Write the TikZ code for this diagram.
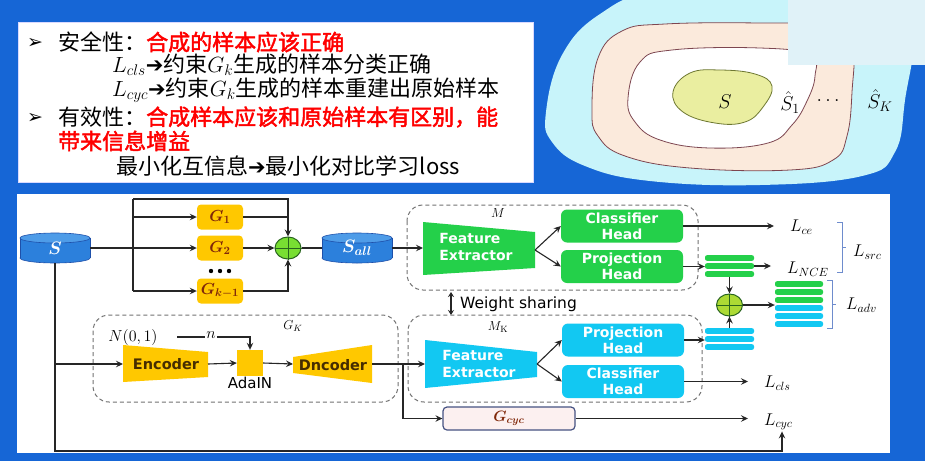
\RequirePackage{fix-cm}
\documentclass[tikz,border=0pt]{standalone}
\usepackage{fontspec}
\usetikzlibrary{arrows.meta,calc,shapes.geometric}

\newfontfamily\cjk{Noto Sans CJK SC}
\newfontfamily\cjkb[FakeBold=2]{Noto Sans CJK SC}
\newfontfamily\dingfont{DejaVu Sans}
\newfontfamily\dv{DejaVu Sans}

\definecolor{bgBlue}{RGB}{22,102,214}
\definecolor{feGreen}{RGB}{36,208,74}
\definecolor{feBlue}{RGB}{18,200,242}
\definecolor{gYellow}{RGB}{255,200,0}
\definecolor{drumBlue}{RGB}{44,128,220}
\definecolor{drumTop}{RGB}{78,156,232}
\definecolor{drumEdge}{RGB}{30,80,170}
\definecolor{plusGreen}{RGB}{120,222,50}
\definecolor{plusGreenB}{RGB}{172,218,52}
\definecolor{plusEdge}{RGB}{40,100,30}
\definecolor{gBrown}{RGB}{128,40,10}
\definecolor{encText}{RGB}{70,45,0}
\definecolor{cycFill}{RGB}{252,240,240}
\definecolor{cycEdge}{RGB}{70,82,130}
\definecolor{brackBlue}{RGB}{110,140,205}
\definecolor{zoneCyan}{RGB}{200,244,250}
\definecolor{zonePeach}{RGB}{251,234,220}
\definecolor{zoneYellow}{RGB}{234,238,160}
\definecolor{zoneLine}{RGB}{125,70,80}
\definecolor{zoneOlive}{RGB}{110,120,50}
\definecolor{alertRed}{RGB}{255,0,0}
\definecolor{paleCard}{RGB}{224,242,248}

% emphasised red text
\newcommand\hltxt[1]{{\cjkb\color{alertRed}#1}}
% heavy arrow used inside the text lines
\newcommand\harrow{{\dingfont\fontsize{21}{21}\selectfont ➔}}

% horizontal storage drum: name, centre x, centre y, label
\newcommand\drawdrum[4]{%
  \filldraw[fill=drumBlue,draw=drumEdge,line width=0.6pt] (#2,#3+10) ellipse[x radius=35,y radius=5];
  \fill[drumBlue] (#2-35,#3-10) rectangle (#2+35,#3+10);
  \draw[drumEdge,line width=0.6pt] (#2-35,#3-10) -- (#2-35,#3+10) (#2+35,#3-10) -- (#2+35,#3+10);
  \filldraw[fill=drumTop,draw=drumEdge,line width=0.6pt] (#2,#3-10) ellipse[x radius=35,y radius=5];
  \node[minimum width=70pt,minimum height=30pt,inner sep=0pt,text=white,
        font=\fontsize{18}{18}\selectfont\boldmath] (#1) at (#2,#3) {\raisebox{-3pt}{#4}};
}

\begin{document}
\begin{tikzpicture}[x=1pt,y=-1pt,
  wire/.style={draw=black!85,line width=1.1pt},
  arrow/.style={wire,-{Stealth[length=7pt,width=6.5pt,inset=2.5pt]}},
  gbox/.style={fill=gYellow,rounded corners=4pt,minimum width=46pt,minimum height=25pt,
    inner sep=0pt,text=gBrown,font=\fontsize{16}{16}\selectfont\boldmath},
  headG/.style={fill=feGreen,rounded corners=6pt,minimum width=122pt,minimum height=33pt,
    inner sep=0pt,align=center,text=white,font=\dv\bfseries\fontsize{14}{16}\selectfont},
  headB/.style={headG,fill=feBlue},
  boxtxt/.style={text=white,align=left,inner sep=0pt,font=\dv\bfseries\fontsize{14}{17}\selectfont},
  enctxt/.style={text=encText,inner sep=0pt,font=\dv\bfseries\fontsize{14.5}{15}\selectfont},
  plus/.style={ellipse,draw=plusEdge,line width=1pt,fill=plusGreen,minimum width=26pt,
    minimum height=22pt,inner sep=0pt},
  dashbox/.style={draw=black!55,dash pattern=on 4pt off 3pt,line width=1pt,rounded corners=16pt},
  mathlbl/.style={inner sep=1pt,font=\fontsize{17}{17}\selectfont},
  smalllbl/.style={inner sep=1pt,font=\fontsize{13}{13}\selectfont},
  bracket/.style={draw=brackBlue,line width=1pt},
  barG/.style={fill=feGreen,rounded corners=2pt},
  barB/.style={fill=feBlue,rounded corners=2pt},
  slot/.style={inner sep=0pt,minimum width=49pt,minimum height=22pt},
  line/.style={anchor=west,inner sep=0pt,font=\cjk\fontsize{22}{24}\selectfont},
  bullet/.style={anchor=west,inner sep=0pt,font=\dingfont\fontsize{19}{19}\selectfont},
  zonelbl/.style={inner sep=0pt,font=\fontsize{20}{20}\selectfont}
]
\useasboundingbox (0,0) rectangle (925,461);

% backdrop
\fill[bgBlue] (0,0) rectangle (925,461);

% ---------- nested sample regions ----------
\fill[zoneCyan] plot[smooth cycle,tension=0.7] coordinates {
  (546,112) (562,55) (600,14) (660,-10) (780,-16) (880,-10) (912,30) (905,100)
  (895,152) (862,176) (760,185) (650,181) (585,166) (552,142)};
\filldraw[fill=zonePeach,draw=zoneLine,line width=0.8pt] plot[smooth cycle,tension=0.7] coordinates {
  (592,110) (598,58) (622,31) (665,24) (760,23) (830,26) (852,45) (852,92)
  (847,136) (833,160) (790,170) (690,168) (625,156) (598,136)};
\filldraw[fill=white,draw=zoneLine,line width=0.8pt] plot[smooth cycle,tension=0.7] coordinates {
  (628,98) (640,62) (672,50) (760,48) (810,55) (815,76) (807,101) (792,125)
  (768,143) (710,148) (660,140) (635,122)};
\filldraw[fill=zoneYellow,draw=zoneOlive,line width=0.8pt] plot[smooth cycle,tension=0.7] coordinates {
  (673,92) (690,73) (720,70) (755,74) (772,86) (763,107) (745,122) (715,123) (683,112)};
\node[zonelbl] (zS) at (725,102) {$S$};
\node[zonelbl] (zS1) at (790,103) {$\hat S_1$};
\node[zonelbl] (zDots) at (828,101) {$\dots$};
\node[zonelbl] (zSK) at (880,101) {$\hat S_K$};
\fill[paleCard] (788,0) rectangle (925,65);

% ---------- text card ----------
\filldraw[fill=white,draw=blue!15,line width=1pt] (18,22) rectangle (533,182);
\node[bullet] (bu1) at (27,43) {➢};
\node[line] (t1) at (58,42) {安全性：\hltxt{合成的样本应该正确}};
\node[line] (t2) at (112,65) {$L_{cls}$\harrow 约束$G_k$生成的样本分类正确};
\node[line] (t3) at (112,90) {$L_{cyc}$\harrow 约束$G_k$生成的样本重建出原始样本};
\node[bullet] (bu2) at (27,118) {➢};
\node[line] (t4) at (58,117) {有效性：\hltxt{合成样本应该和原始样本有区别，能}};
\node[line] (t5) at (58,141) {\hltxt{带来信息增益}};
\node[line] (t6) at (116,166) {最小化互信息\harrow 最小化对比学习loss};

% ---------- pipeline panel ----------
\fill[white] (17,194) rectangle (890,453);

\drawdrum{sdrum}{55}{248}{$S$}
\drawdrum{sall}{357}{248}{$S_{all}$}

\node[gbox] (g1) at (220,217) {$G_1$};
\node[gbox] (g2) at (220,248) {$G_2$};
\node[gbox] (gk1) at (220,291) {$G_{k-1}$};
\foreach \dx in {-9,0,9} \fill (220+\dx,271) circle[radius=2.2];

\node[plus] (sum1) at (288,248) {};
\draw[plusEdge,line width=0.8pt] (sum1.north) -- (sum1.south) (sum1.west) -- (sum1.east);

\coordinate (brTop) at (133,199);
\coordinate (brMid) at (133,248);
\coordinate (brBot) at (133,291);
\draw[wire] (sdrum.east) -- (brMid);
\draw[wire] (brTop) -- (brBot);
\draw[arrow] (brTop |- g1) -- (g1.west);
\draw[arrow] (brMid) -- (g2.west);
\draw[arrow] (brBot) -- (gk1.west);
\draw[arrow] (brTop) -| (sum1.north);
\draw[wire] (g1.east) -- (g1.east -| sum1);
\draw[arrow] (g2.east) -- (sum1.west);
\draw[arrow] (gk1.east) -| (sum1.south);
\draw[wire] (sum1.east) -- (sall.west);

% source model M
\draw[dashbox] (407,205) rectangle (698,290);
\node[smalllbl] (mLab) at (498,213) {$M$};
\fill[feGreen] (423,222) -- (535,232) -- (535,268) -- (423,275) -- cycle;
\node[boxtxt] (feG) at (476,247) {Feature\\Extractor};
\coordinate (feGin) at (423,248);
\coordinate (feGout) at (535,250);
\draw[arrow] (sall.east) -- (feGin);
\node[headG] (clsG) at (622,226) {Classifier\\Head};
\node[headG] (projG) at (622,266.5) {Projection\\Head};
\draw[arrow] (feGout) -- (clsG.west);
\draw[arrow] (feGout) -- (projG.west);

\node[slot] (barsG) at (729.5,266) {};
\foreach \yy in {258,266,274} \fill[barG] (705,\yy-2.8) rectangle (754,\yy+2.8);
\draw[arrow] (projG.east) -- (projG.east -| barsG.west);

\node[mathlbl,anchor=west] (lce) at (789,227) {$L_{ce}$};
\node[mathlbl,anchor=west] (lnce) at (786,269) {$L_{NCE}$};
\draw[arrow] (clsG.east) -- ([xshift=-15pt]lce.west |- clsG.east);
\draw[arrow] (barsG.east) -- ([xshift=-15pt]lnce.west |- barsG.east);

\node[plus,fill=plusGreenB] (sum2) at (729.5,305) {};
\draw[plusEdge,line width=0.8pt] (sum2.north) -- (sum2.south) (sum2.west) -- (sum2.east);
\node[slot] (barsB) at (729.5,339) {};
\foreach \yy in {331,339,347} \fill[barB] (705,\yy-2.8) rectangle (754,\yy+2.8);
\draw[arrow] (barsG.south) -- (sum2.north);
\draw[arrow] (barsB.north) -- (sum2.south);

\node[inner sep=0pt,minimum width=48pt,minimum height=46pt] (stack) at (799,304) {};
\foreach \yy in {284,292,300} \fill[barG] (775,\yy-2.8) rectangle (823,\yy+2.8);
\foreach \yy in {308,316,324} \fill[barB] (775,\yy-2.8) rectangle (823,\yy+2.8);
\draw[arrow] (sum2.east) -- (sum2.east -| stack.west);

\draw[bracket] (837,222) -- (842,222) -- (842,272) -- (837,272) (842,247) -- (846,247);
\node[mathlbl,anchor=west] (lsrc) at (852,252) {$L_{src}$};
\draw[bracket] (827,280) -- (832,280) -- (832,328) -- (827,328) (832,304) -- (836,304);
\node[mathlbl,anchor=west] (ladv) at (845,305) {$L_{adv}$};

% shared weights
\coordinate (wsA) at (451,292);
\coordinate (wsB) at (451,315);
\draw[wire,{Stealth[length=5pt,width=6pt]}-{Stealth[length=5pt,width=6pt]}] (wsA) -- (wsB);
\node[anchor=west,inner sep=0pt,font=\dv\fontsize{15.5}{16}\selectfont] (ws) at (460,304) {Weight sharing};

% target model M_K
\draw[dashbox] (408,315) rectangle (702,402);
\node[smalllbl] (mkLab) at (498,327) {$M_{\mathrm{K}}$};
\fill[feBlue] (425,340) -- (537,352) -- (537,377) -- (425,388) -- cycle;
\node[boxtxt] (feB) at (479,364) {Feature\\Extractor};
\coordinate (febIn) at (425,364);
\coordinate (febOut) at (537,364);
\node[headB] (projB) at (623,340) {Projection\\Head};
\node[headB] (clsB) at (623,381.5) {Classifier\\Head};
\draw[arrow] (febOut) -- (projB.west);
\draw[arrow] (febOut) -- (clsB.west);
\draw[arrow] (projB.east) -- (projB.east -| barsB.west);
\node[mathlbl,anchor=west] (lcls) at (763,383) {$L_{cls}$};
\draw[arrow] (clsB.east) -- ([xshift=-15pt]lcls.west |- clsB.east);

% generator G_K
\draw[dashbox] (93,315) rectangle (398,402);
\node[smalllbl] (gkLab) at (293,326) {$G_K$};
\node[inner sep=0pt,font=\fontsize{16}{16}\selectfont] (n01) at (133,337) {$N(0,1)$};
\node[inner sep=1pt,font=\fontsize{16}{16}\selectfont] (nlab) at (211,335) {$n$};
\coordinate (nStart) at (177,337);
\fill[gYellow] (123,345) -- (208,352) -- (208,377) -- (123,382) -- cycle;
\node[enctxt] (enc) at (166,364) {Encoder};
\coordinate (encIn) at (123,364);
\coordinate (encOut) at (208,364);
\node[fill=gYellow,minimum width=26pt,minimum height=26pt,inner sep=0pt] (ada) at (250,363) {};
\node[inner sep=0pt,font=\dv\fontsize{15}{15}\selectfont] (adaLab) at (250,383) {AdaIN};
\fill[gYellow] (293,357) -- (372,345) -- (372,383) -- (293,373) -- cycle;
\node[enctxt] (dec) at (333,365) {Dncoder};
\coordinate (decIn) at (293,364);
\coordinate (decOut) at (372,364);
\coordinate (split) at (403,364);

\draw[wire] (nStart) -- (nStart -| nlab.west);
\draw[arrow] (nlab.east |- nStart) -| (ada.north);
\draw[arrow] (sdrum.south |- encIn) -- (encIn);
\draw[arrow] (encOut) -- (ada.west);
\draw[arrow] (ada.east) -- (decIn);
\draw[arrow] (decOut) -- (febIn);

\node[fill=cycFill,draw=cycEdge,line width=1.2pt,rounded corners=4pt,minimum width=132pt,
  minimum height=23pt,inner sep=0pt,text=gBrown,font=\fontsize{15}{15}\selectfont\boldmath] (gcyc) at (509,418.5) {$G_{cyc}$};
\draw[arrow] (split) |- (gcyc.west);
\node[mathlbl,anchor=west] (lcyc) at (763,422) {$L_{cyc}$};
\draw[arrow] (gcyc.east) -- ([xshift=-15pt]lcyc.west |- gcyc.east);

\coordinate (loopEnd) at (782,451);
\draw[arrow] (sdrum.south) |- (loopEnd) -- (loopEnd |- lcyc.south);
\end{tikzpicture}
\end{document}
